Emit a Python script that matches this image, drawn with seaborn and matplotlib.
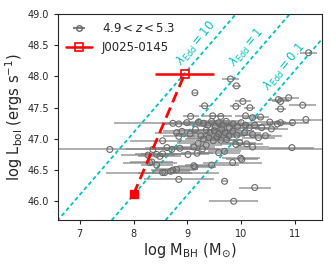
import numpy as np
import pandas as pd
import matplotlib
matplotlib.use("Agg")
import matplotlib.pyplot as plt
from matplotlib.lines import Line2D
import seaborn as sns

# quasars at 4.9 < z < 5.3 : log MBH, log Lbol, error on log MBH
mbh = [11.25, 9.80, 9.91, 9.14, 10.03, 9.32, 9.90, 10.16, 10.69, 10.73, 10.88, 10.73, 11.14,
       9.06, 9.47, 9.62, 10.08, 10.21, 10.36,
       8.73, 8.84, 8.99, 9.21, 10.53, 10.67, 10.73, 10.95, 11.20,
       9.30, 9.38, 9.45, 9.52, 9.58, 9.65, 9.72, 9.78, 9.85, 9.93, 10.00, 10.08, 10.15, 10.25,
       10.38, 10.56, 9.35, 9.42, 9.50, 9.58, 9.64, 9.70, 9.77, 9.84, 9.92, 10.06, 10.21,
       9.25, 9.30, 9.40, 9.48, 9.55, 9.62, 9.73, 10.32, 10.45,
       8.80, 8.90, 9.05, 9.15, 8.84, 8.54, 9.97, 10.10, 10.21, 9.90, 9.20, 9.35,
       7.56, 10.94, 8.36, 8.62, 8.71, 8.86, 9.12, 9.28,
       8.27, 8.43, 8.54, 9.01, 9.18, 9.58, 9.69, 9.99, 8.49, 10.01,
       8.30, 8.34, 8.43, 9.84, 9.45, 9.14, 9.12,
       8.54, 8.58, 8.73, 8.80, 8.69,
       8.84, 9.69, 10.25, 9.86]
lbol = [48.38, 47.96, 47.85, 47.74, 47.60, 47.53, 47.52, 47.50, 47.63, 47.60, 47.66, 47.48, 47.54,
        47.36, 47.37, 47.36, 47.37, 47.34, 47.35,
        47.25, 47.24, 47.26, 47.27, 47.27, 47.24, 47.26, 47.26, 47.31,
        47.25, 47.22, 47.28, 47.20, 47.26, 47.22, 47.28, 47.18, 47.24, 47.20, 47.26, 47.22, 47.18, 47.22,
        47.18, 47.16, 47.14, 47.10, 47.13, 47.08, 47.15, 47.10, 47.05, 47.12, 47.06, 47.10, 47.07,
        47.05, 47.00, 47.02, 46.97, 47.03, 46.98, 46.99, 47.02, 47.05,
        47.10, 47.12, 47.08, 47.15, 47.04, 46.97, 46.94, 46.92, 46.87, 46.91, 46.93, 46.90,
        46.83, 46.86, 46.83, 46.86, 46.83, 46.85, 46.87, 46.84,
        46.74, 46.75, 46.76, 46.75, 46.77, 46.78, 46.80, 46.69, 46.72, 46.67,
        46.62, 46.63, 46.58, 46.62, 46.58, 46.55, 46.57,
        46.46, 46.46, 46.50, 46.51, 46.48,
        46.35, 46.32, 46.22, 46.00]
mbh_err = [0.15, 0.15, 0.08, 0.05, 0.15, 0.10, 0.10, 0.10, 0.20, 0.15, 0.20, 0.10, 0.25,
           0.15, 0.20, 0.20, 0.20, 0.20, 0.15,
           1.10, 0.30, 0.40, 0.30, 0.30, 0.30, 0.25, 0.30, 0.30,
           0.30, 0.40, 0.30, 0.35, 0.30, 0.40, 0.30, 0.35, 0.30, 0.40, 0.30, 0.30, 0.35, 0.30,
           0.30, 0.30, 0.40, 0.35, 0.40, 0.30, 0.35, 0.40, 0.30, 0.40, 0.35, 0.30, 0.35,
           0.40, 0.35, 0.40, 0.30, 0.35, 0.30, 0.30, 0.30, 0.30,
           0.40, 0.35, 0.30, 0.35, 0.30, 0.60, 0.30, 0.30, 0.30, 0.30, 0.40, 0.30,
           4.00, 0.42, 0.50, 0.40, 0.40, 0.40, 0.40, 0.30,
           0.50, 0.40, 0.40, 0.40, 0.30, 0.40, 0.30, 0.35, 0.40, 0.30,
           0.50, 0.40, 0.30, 0.55, 0.50, 0.40, 0.30,
           1.05, 0.50, 0.40, 0.40, 0.35,
           0.65, 0.05, 0.30, 0.45]

# J0025-0145 : two mass estimates
j_mbh = [8.0, 8.95]
j_lbol = [46.11, 48.04]
j_err = 0.55

edd_ratio = [10, 1, 0.1]
edd_label = ["10", "1", "0.1"]
label_pos = [(9.17, 48.53), (10.1, 48.47), (10.80, 48.15)]

df = pd.DataFrame({"mbh": mbh, "lbol": lbol, "err": mbh_err})

sns.set_style("ticks")
plt.rcParams["font.family"] = ["DejaVu Sans"]

fig = plt.figure(figsize=(3.32, 2.66), dpi=100)
ax = fig.add_axes([0.175, 0.173, 0.795, 0.774])

# Eddington lines
xx = np.array([6.0, 12.0])
for r, lab, (tx, ty) in zip(edd_ratio, edd_label, label_pos):
    ax.plot(xx, np.log10(1.26e38 * r) + xx, color="c", ls=(0, (2.2, 1.6)), lw=1.3, zorder=1)
    ax.text(tx, ty, r"$\lambda_{\rm Edd}=$" + lab, color="c", fontsize=8.5,
            rotation=50, ha="center", va="center")

ax.errorbar(df["mbh"], df["lbol"], xerr=df["err"], fmt="none", ecolor="gray",
            elinewidth=1.1, alpha=0.8, zorder=2)
sns.scatterplot(data=df, x="mbh", y="lbol", ax=ax, marker="o", s=18,
                facecolor="none", edgecolor="dimgray", linewidth=0.8, zorder=3)

sns.lineplot(x=j_mbh, y=j_lbol, ax=ax, color="red", ls=(0, (4, 2)), lw=2, zorder=4)
ax.errorbar([j_mbh[1]], [j_lbol[1]], xerr=j_err, fmt="s", ms=6, mfc="none", mec="red",
            ecolor="red", elinewidth=1.8, mew=1.2, zorder=5)
ax.plot(j_mbh[0], j_lbol[0], "s", color="red", ms=6, zorder=5)

# legend handles
h_gray = ax.errorbar([], [], xerr=[], fmt="o", ms=4, mfc="none", mec="dimgray", ecolor="gray")
h_red = Line2D([], [], color="red", lw=1.8, marker="s", ms=6, mfc="none", mec="red", mew=1.2)
ax.legend([h_gray, h_red], [r"4.9$<z<$5.3", "J0025-0145"], loc="upper left", frameon=False,
          fontsize=8.5, handlelength=2.2, borderaxespad=0.3, handletextpad=0.8)

ax.set_xlim(6.6, 11.5)
ax.set_ylim(45.7, 49.0)
ax.set_xticks([7, 8, 9, 10, 11])
ax.set_yticks([46.0, 46.5, 47.0, 47.5, 48.0, 48.5, 49.0])
ax.tick_params(labelsize=7, length=3)
ax.set_xlabel(r"log M$_{\rm BH}$ (M$_{\odot}$)", fontsize=10.5, labelpad=2)
ax.set_ylabel(r"log L$_{\rm bol}$ (ergs s$^{-1}$)", fontsize=10.5, labelpad=2)

fig.savefig("out.png", dpi=100)
